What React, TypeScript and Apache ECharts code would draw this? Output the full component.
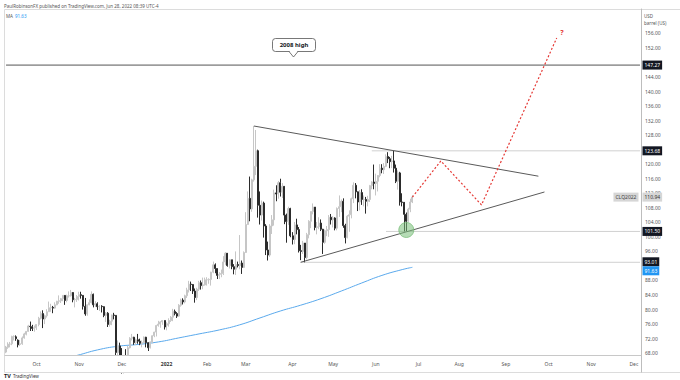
import React, { useEffect, useRef } from "react";
import * as echarts from "echarts";

// ---------- categories (trading days) ----------
const START_DATE = [2021, 8, 10];
const CATEGORY_COUNT = 313;
const HOLIDAYS = [
  "2021-11-25", "2021-12-24", "2022-01-17", "2022-02-21", "2022-04-15",
  "2022-05-30", "2022-06-20", "2022-07-04", "2022-09-05", "2022-11-24",
];
const MONTHS = ["Jan", "Feb", "Mar", "Apr", "May", "Jun", "Jul", "Aug", "Sep", "Oct", "Nov", "Dec"];

// ---------- candles: [open, close, low, high] ----------
const sep2021 = [
  [68.3, 69.7, 68.0, 70.0], [69.6, 70.5, 69.2, 71.0], [70.5, 70.5, 69.6, 71.1], [70.6, 72.6, 70.2, 72.8],
  [72.6, 72.6, 71.5, 72.9], [72.5, 72.0, 71.4, 72.9], [71.6, 70.3, 69.6, 71.8], [70.4, 70.6, 70.0, 71.6],
  [70.6, 72.2, 70.3, 72.6], [72.2, 73.3, 72.0, 73.6], [73.2, 74.0, 72.9, 74.1], [74.0, 75.5, 73.9, 75.8],
  [75.4, 75.3, 74.1, 76.7], [75.3, 74.8, 74.1, 75.8], [74.8, 75.0, 73.9, 75.6],
];
const oct2021 = [
  [75.0, 75.9, 74.4, 76.0], [75.9, 77.6, 75.4, 78.0], [77.6, 78.9, 77.3, 79.5], [78.9, 77.4, 74.9, 79.8],
  [77.4, 78.3, 76.0, 78.6], [78.3, 79.4, 77.8, 80.1], [79.4, 80.5, 79.4, 82.2], [80.5, 80.6, 79.4, 81.6],
  [80.6, 80.4, 79.0, 81.0], [80.4, 81.3, 80.2, 82.0], [81.3, 82.3, 81.2, 82.4], [82.3, 82.4, 81.6, 83.9],
  [82.4, 83.0, 81.8, 83.2], [83.0, 83.9, 82.3, 83.9], [83.9, 82.5, 81.3, 84.0], [82.5, 83.8, 82.0, 84.1],
  [83.8, 83.8, 83.3, 85.0], [83.8, 84.7, 83.6, 85.4], [84.7, 82.7, 82.0, 84.8], [82.7, 82.8, 80.6, 83.2],
  [82.8, 83.6, 82.1, 84.0],
];
const nov2021 = [
  [83.6, 84.1, 82.5, 84.9], [84.1, 83.9, 83.0, 84.9], [83.9, 80.9, 80.0, 84.0], [80.9, 78.8, 78.3, 83.2],
  [78.8, 81.3, 78.3, 81.4], [81.3, 81.9, 81.2, 82.8], [81.9, 84.2, 81.7, 85.0], [84.2, 81.3, 80.6, 84.4],
  [81.3, 81.6, 80.7, 82.3], [81.6, 80.8, 79.9, 82.0], [80.8, 80.9, 79.6, 81.2], [80.9, 80.8, 79.2, 81.2],
  [80.8, 78.4, 77.9, 80.9], [78.4, 79.0, 76.6, 79.3], [79.0, 75.9, 75.2, 79.3], [75.9, 76.8, 75.3, 77.2],
  [76.8, 78.5, 75.7, 78.6], [78.5, 78.4, 77.3, 79.1], [78.4, 68.2, 67.4, 78.5], [68.2, 70.0, 67.4, 71.5],
  [70.0, 66.2, 64.4, 70.9],
];
const dec2021 = [
  [66.2, 65.6, 62.4, 69.4], [65.6, 66.5, 62.4, 67.5], [66.5, 66.3, 64.6, 69.1], [66.3, 69.5, 66.0, 70.0],
  [69.5, 72.1, 69.3, 72.4], [72.1, 72.4, 71.5, 73.3], [72.4, 70.9, 70.3, 72.5], [70.9, 71.7, 70.3, 72.0],
  [71.7, 71.3, 70.6, 73.3], [71.3, 70.7, 70.2, 72.0], [70.7, 70.9, 69.6, 71.5], [70.9, 72.4, 70.8, 72.6],
  [72.4, 70.9, 69.6, 72.5], [70.9, 69.5, 68.6, 71.0], [69.5, 71.1, 69.3, 71.2], [71.1, 72.8, 70.7, 72.9],
  [72.8, 73.8, 72.4, 73.9], [73.8, 75.6, 72.6, 75.8], [75.6, 76.0, 75.3, 76.9], [76.0, 76.6, 75.0, 76.8],
  [76.6, 77.0, 75.8, 77.1], [77.0, 75.2, 74.5, 77.0],
];
const jan2022 = [
  [75.7, 76.1, 74.3, 76.5], [76.1, 77.0, 75.3, 77.6], [77.0, 77.9, 76.6, 78.2], [77.9, 79.5, 76.8, 80.2],
  [79.5, 78.9, 78.4, 80.0], [78.9, 78.2, 77.7, 79.3], [78.2, 81.2, 78.0, 81.5], [81.2, 82.6, 80.8, 83.0],
  [82.6, 82.1, 81.4, 83.1], [82.1, 83.8, 81.7, 84.1], [83.8, 85.4, 83.2, 86.0], [85.4, 87.0, 84.7, 87.9],
  [87.0, 86.9, 85.1, 87.7], [86.9, 85.1, 84.3, 86.8], [85.1, 83.3, 81.9, 85.8], [83.3, 85.6, 82.6, 86.0],
  [85.6, 87.4, 85.1, 87.9], [87.4, 86.6, 85.5, 88.0], [86.6, 86.8, 85.6, 88.8], [86.8, 88.2, 86.6, 88.8],
];
const feb2022 = [
  [88.2, 88.2, 86.6, 88.9], [88.2, 88.3, 87.1, 88.6], [88.3, 90.3, 86.6, 90.4], [90.3, 92.3, 90.0, 93.2],
  [92.3, 91.3, 90.0, 92.7], [91.3, 89.4, 88.4, 91.3], [89.4, 89.7, 88.4, 90.3], [89.7, 89.9, 88.9, 91.0],
  [89.9, 93.1, 89.5, 94.7], [93.1, 95.5, 92.3, 95.8], [95.5, 92.1, 91.8, 95.0], [92.1, 93.7, 91.3, 93.8],
  [93.7, 91.8, 91.1, 93.7], [91.8, 91.1, 89.7, 92.5], [91.1, 92.4, 89.5, 96.0], [92.4, 92.1, 91.6, 93.2],
  [92.1, 92.8, 91.1, 100.5], [92.8, 91.6, 89.8, 93.5], [91.6, 95.7, 91.5, 96.0],
];
const mar2022 = [
  [95.7, 103.4, 95.6, 106.8], [103.4, 110.6, 103.3, 112.5], [110.6, 107.7, 104.3, 116.6], [107.7, 115.7, 106.9, 116.0],
  [115.7, 119.4, 115.2, 130.5], [119.4, 123.7, 117.0, 129.4], [123.7, 108.7, 105.3, 124.0], [108.7, 106.0, 103.4, 112.5],
  [106.0, 109.3, 104.5, 110.0], [109.3, 103.0, 99.8, 109.7], [103.0, 96.4, 95.0, 103.5], [96.4, 95.0, 93.5, 98.7],
  [95.0, 103.0, 94.5, 103.5], [103.0, 104.7, 100.8, 106.0], [104.7, 112.1, 103.1, 113.0], [112.1, 111.8, 109.8, 114.2],
  [111.8, 114.9, 110.5, 115.4], [114.9, 112.3, 111.1, 116.0], [112.3, 113.9, 110.7, 114.8], [113.9, 106.0, 103.5, 114.0],
  [106.0, 104.2, 98.4, 106.4], [104.2, 107.8, 103.3, 108.3], [107.8, 100.3, 99.9, 108.0],
];
const apr2022 = [
  [100.3, 99.3, 97.9, 101.3], [99.3, 103.3, 98.0, 104.1], [103.3, 102.0, 100.7, 105.0], [102.0, 96.2, 95.7, 102.7],
  [96.2, 96.0, 93.6, 97.8], [96.0, 98.3, 95.3, 98.9], [98.3, 94.3, 93.0, 97.3], [94.3, 100.6, 93.8, 101.1],
  [100.6, 104.3, 99.6, 104.6], [104.3, 107.0, 102.4, 107.0], [107.0, 108.2, 106.2, 109.2], [108.2, 102.6, 101.8, 108.1],
  [102.6, 102.8, 100.7, 104.1], [102.8, 103.8, 102.1, 105.4], [103.8, 102.1, 101.6, 104.8], [102.1, 98.5, 95.3, 102.2],
  [98.5, 101.7, 98.1, 102.0], [101.7, 102.0, 100.2, 103.0], [102.0, 105.4, 100.0, 106.0], [105.4, 104.7, 103.4, 106.3],
];
const may2022 = [
  [104.7, 105.2, 102.6, 105.7], [105.2, 102.4, 101.8, 105.4], [102.4, 107.8, 101.8, 108.1], [107.8, 108.3, 105.5, 111.4],
  [108.3, 109.8, 106.8, 110.3], [109.8, 103.1, 102.5, 110.6], [103.1, 99.8, 98.2, 103.6], [99.8, 105.7, 99.6, 106.0],
  [105.7, 106.1, 101.4, 107.3], [106.1, 110.5, 105.1, 110.8], [110.5, 114.2, 109.3, 115.0], [114.2, 112.4, 110.6, 114.8],
  [112.4, 109.6, 107.1, 112.5], [109.6, 112.2, 107.3, 112.9], [112.2, 110.3, 108.8, 113.1], [110.3, 110.3, 108.4, 111.4],
  [110.3, 109.8, 106.4, 111.0], [109.8, 110.3, 108.4, 111.3], [110.3, 114.1, 109.6, 114.3], [114.1, 115.1, 113.1, 115.3],
  [115.1, 114.7, 113.1, 119.9],
];
const jun2022 = [
  [114.7, 115.3, 111.4, 117.4], [115.3, 116.9, 112.5, 117.0], [116.9, 118.9, 116.4, 120.0], [118.9, 118.5, 117.5, 120.0],
  [118.5, 119.4, 117.3, 120.3], [119.4, 122.1, 119.2, 122.7], [122.1, 121.5, 120.3, 123.3], [121.5, 120.7, 118.9, 122.0],
  [120.7, 120.9, 118.9, 122.3], [120.9, 118.9, 117.7, 123.68], [118.9, 115.3, 114.8, 119.9], [115.3, 117.6, 113.0, 118.3],
  [117.6, 109.6, 108.6, 117.9], [109.6, 109.5, 108.4, 112.0], [109.5, 106.2, 101.5, 108.0], [106.2, 104.3, 101.6, 106.7],
  [104.3, 107.6, 104.0, 108.0], [107.6, 109.6, 106.8, 110.5], [109.6, 110.94, 109.3, 111.5],
];

// ---------- moving average samples: [barIndex, value] ----------
const maPoints = [
  [30, 66.8], [35, 67.4], [45, 68.9], [55, 69.9], [65, 70.4], [75, 71.1], [85, 72.2], [95, 73.3],
  [105, 74.4], [115, 75.8], [125, 77.7], [135, 79.6], [145, 81.2], [155, 83.0], [165, 85.1],
  [175, 87.3], [185, 89.4], [195, 91.0], [200, 91.63],
];

// ---------- drawings: [barIndex, price] ----------
const upperTrend = [[122, 130.5], [262, 116.7]];
const lowerTrend = [[145, 93.01], [265, 112.35]];
const projection = [[200, 110.94], [214, 120.9], [234, 108.8], [271, 154.7]];
const HIGH_2008 = 147.27;
const JUNE_HIGH = 123.68;
const JUNE_LOW = 101.5;
const APRIL_LOW = 93.01;
const LAST_PRICE = 110.94;
const MA_LAST = 91.63;
const levelStarts = { high2008: 0, juneHigh: 180, juneLow: 187, aprilLow: 145 };
const circlePoint = [197, 101.9];
const priceTicks = [68, 72, 76, 80, 84, 88, 96, 100, 104, 108, 112, 116, 120, 128, 132, 136, 140, 144, 152, 156];

const FONT = "Noto Sans";

function buildTradingDays(): string[] {
  const out: string[] = [];
  const d = new Date(Date.UTC(START_DATE[0], START_DATE[1], START_DATE[2]));
  while (out.length < CATEGORY_COUNT) {
    const wd = d.getUTCDay();
    const s = d.toISOString().slice(0, 10);
    if (wd !== 0 && wd !== 6 && HOLIDAYS.indexOf(s) < 0) out.push(s);
    d.setUTCDate(d.getUTCDate() + 1);
  }
  return out;
}

export default function App() {
  const ref = useRef<HTMLDivElement>(null);

  useEffect(() => {
    if (!ref.current) return;
    const chart = echarts.init(ref.current, undefined, { renderer: "svg" });
    const dates = buildTradingDays();
    const lastIdx = dates.length - 1;
    const monthStart = new Set<number>();
    for (let i = 1; i < dates.length; i++) {
      if (dates[i].slice(5, 7) !== dates[i - 1].slice(5, 7)) monthStart.add(i);
    }
    const candles = [
      ...sep2021, ...oct2021, ...nov2021, ...dec2021, ...jan2022,
      ...feb2022, ...mar2022, ...apr2022, ...may2022, ...jun2022,
    ];

    const hLine = (start: number, v: number, color: string) => ({
      type: "line",
      data: [[start, v], [lastIdx, v]],
      symbol: "none",
      silent: true,
      lineStyle: { color, width: 1 },
      z: 1,
    });

    const tag = (v: number, text: string, bg: string, fg: string, dy = 0) => ({
      coord: [lastIdx, v],
      label: {
        show: true,
        position: "right",
        distance: 2,
        offset: [0, dy],
        formatter: text,
        backgroundColor: bg,
        color: fg,
        fontSize: 5,
        fontFamily: FONT,
        padding: [2, 2, 1, 2],
        lineHeight: 6,
      },
    });

    chart.setOption({
      animation: false,
      backgroundColor: "#ffffff",
      grid: { left: 5, right: 39, top: 9, bottom: 25, containLabel: false },
      xAxis: {
        type: "category",
        data: dates,
        boundaryGap: true,
        z: 200,
        axisLine: { show: true, lineStyle: { color: "#c8c8c8", width: 1 } },
        axisTick: { show: false },
        splitLine: { show: false },
        axisLabel: {
          interval: (index: number) => monthStart.has(index),
          formatter: (value: string) => {
            const m = +value.slice(5, 7);
            return m === 1 ? "{y|" + value.slice(0, 4) + "}" : MONTHS[m - 1];
          },
          color: "#555",
          fontSize: 5,
          fontFamily: FONT,
          margin: 6,
          rich: { y: { fontWeight: "bold", fontSize: 5, color: "#333", fontFamily: FONT } },
        },
      },
      yAxis: {
        type: "value",
        position: "right",
        min: 67.5,
        max: 162.7,
        scale: true,
        axisLine: { show: true, lineStyle: { color: "#bdbdbd", width: 1 } },
        axisTick: { show: false },
        splitLine: { show: false },
        axisLabel: {
          customValues: priceTicks,
          formatter: (v: number) => v.toFixed(2),
          color: "#555",
          fontSize: 5,
          fontFamily: FONT,
          margin: 4,
        },
      },
      series: [
        hLine(levelStarts.high2008, HIGH_2008, "#555555"),
        hLine(levelStarts.juneHigh, JUNE_HIGH, "#d0d0d0"),
        hLine(levelStarts.juneLow, JUNE_LOW, "#d0d0d0"),
        hLine(levelStarts.aprilLow, APRIL_LOW, "#d0d0d0"),
        {
          type: "line",
          data: maPoints,
          symbol: "none",
          smooth: true,
          silent: true,
          lineStyle: { color: "#5aa9ec", width: 1 },
          z: 1,
        },
        {
          type: "line",
          data: upperTrend,
          symbol: "none",
          silent: true,
          lineStyle: { color: "#5a5a5a", width: 1 },
          z: 3,
        },
        {
          type: "line",
          data: lowerTrend,
          symbol: "none",
          silent: true,
          lineStyle: { color: "#5a5a5a", width: 1 },
          z: 3,
        },
        {
          type: "candlestick",
          data: candles,
          barWidth: 1.5,
          clip: true,
          itemStyle: {
            color: "#c6c6c6",
            color0: "#2b2b2b",
            borderColor: "#c6c6c6",
            borderColor0: "#2b2b2b",
            borderWidth: 1,
          },
          z: 2,
        },
        {
          type: "line",
          data: projection.map((p, i) =>
            i === projection.length - 1
              ? { value: p, symbol: "arrow", symbolSize: 5, symbolRotate: -24, itemStyle: { color: "#e53935" } }
              : { value: p, symbol: "none" }
          ),
          symbol: "none",
          showSymbol: true,
          silent: true,
          lineStyle: { color: "#e53935", width: 1.2, type: [2, 2] },
          z: 4,
          markPoint: {
            symbol: "rect",
            symbolSize: 1,
            itemStyle: { color: "rgba(0,0,0,0)" },
            data: [
              {
                coord: projection[projection.length - 1],
                label: {
                  show: true,
                  position: "right",
                  distance: 3,
                  offset: [0, -6],
                  formatter: "?",
                  color: "#e53935",
                  fontWeight: "bold",
                  fontSize: 7,
                  fontFamily: FONT,
                },
              },
            ],
          },
        },
        {
          type: "line",
          data: [],
          clip: false,
          silent: true,
          z: 6,
          markPoint: {
            symbol: "rect",
            symbolSize: 1,
            itemStyle: { color: "rgba(0,0,0,0)" },
            data: [
              tag(HIGH_2008, HIGH_2008.toFixed(2), "#131722", "#ffffff"),
              tag(JUNE_HIGH, JUNE_HIGH.toFixed(2), "#131722", "#ffffff"),
              tag(LAST_PRICE, LAST_PRICE.toFixed(2), "#d6d6d6", "#333333"),
              tag(JUNE_LOW, JUNE_LOW.toFixed(2), "#131722", "#ffffff"),
              tag(APRIL_LOW, APRIL_LOW.toFixed(2), "#131722", "#ffffff", -0.5),
              tag(MA_LAST, MA_LAST.toFixed(2), "#2196f3", "#ffffff", 3.5),
              {
                coord: [lastIdx, LAST_PRICE],
                label: {
                  show: true,
                  position: "left",
                  distance: 1,
                  formatter: "CLQ2022",
                  backgroundColor: "#d6d6d6",
                  color: "#444",
                  fontSize: 5,
                  fontFamily: FONT,
                  padding: [2, 2, 1, 2],
                  lineHeight: 6,
                },
              },
            ],
          },
        },
        {
          type: "line",
          data: [],
          silent: true,
          z: 5,
          markPoint: {
            symbol: "circle",
            symbolSize: 15,
            itemStyle: { color: "rgba(120,190,120,0.55)", borderColor: "#7cbf7c", borderWidth: 0.8 },
            label: { show: false },
            data: [{ coord: circlePoint }],
          },
        },
      ],
      graphic: [
        {
          type: "rect", shape: { x: 5, y: 355.6, width: 636, height: 16.6 },
          style: { fill: "#ffffff" }, silent: true, z: 100,
        },
        { type: "line", shape: { x1: 4.5, y1: 9.5, x2: 680, y2: 9.5 }, style: { stroke: "#dcdcdc", lineWidth: 1 }, silent: true },
        { type: "line", shape: { x1: 4.5, y1: 9.5, x2: 4.5, y2: 372.5 }, style: { stroke: "#dcdcdc", lineWidth: 1 }, silent: true, z: 101 },
        { type: "line", shape: { x1: 4.5, y1: 372.5, x2: 680, y2: 372.5 }, style: { stroke: "#dcdcdc", lineWidth: 1 }, silent: true, z: 101 },
        { type: "line", shape: { x1: 641.5, y1: 355, x2: 641.5, y2: 372.5 }, style: { stroke: "#bdbdbd", lineWidth: 1 }, silent: true, z: 101 },
        {
          type: "text", x: 4, y: 3,
          style: { text: "PaulRobinsonFX published on TradingView.com, Jun 28, 2022 08:39 UTC-4", fontSize: 4.5, fontFamily: FONT, fill: "#555" },
          silent: true,
        },
        { type: "text", x: 6, y: 13, style: { text: "MA", fontSize: 4.5, fontFamily: FONT, fill: "#555" }, silent: true },
        { type: "text", x: 15, y: 13, style: { text: MA_LAST.toFixed(2), fontSize: 4.5, fontFamily: FONT, fill: "#2196f3" }, silent: true },
        { type: "text", x: 644, y: 13, style: { text: "USD", fontSize: 4.5, fontFamily: FONT, fill: "#555" }, silent: true },
        { type: "text", x: 644, y: 20, style: { text: "barrel (US)", fontSize: 4.5, fontFamily: FONT, fill: "#555" }, silent: true },
        { type: "text", x: 4, y: 373, style: { text: "TV", fontSize: 5.5, fontWeight: "bold", fontFamily: FONT, fill: "#131722" }, silent: true },
        { type: "text", x: 13, y: 373.5, style: { text: "TradingView", fontSize: 4.5, fontFamily: FONT, fill: "#333" }, silent: true },
        {
          type: "rect", shape: { x: 272.5, y: 38.5, width: 43, height: 13, r: 3 },
          style: { fill: "#ffffff", stroke: "#555", lineWidth: 0.8 }, silent: true, z: 10,
        },
        {
          type: "polygon", shape: { points: [[289, 50.6], [293.5, 57], [298, 50.6]] },
          style: { fill: "#ffffff", stroke: null }, silent: true, z: 11,
        },
        {
          type: "polyline", shape: { points: [[289, 51.5], [293.5, 57], [298, 51.5]] },
          style: { stroke: "#555", lineWidth: 0.8, fill: null }, silent: true, z: 11,
        },
        {
          type: "text", x: 294, y: 45,
          style: { text: "2008 high", fontSize: 6, fontWeight: "bold", fontFamily: FONT, fill: "#131722", align: "center", verticalAlign: "middle" },
          silent: true, z: 12,
        },
      ],
    });

    return () => chart.dispose();
  }, []);

  return <div ref={ref} style={{ width: 680, height: 380, position: "absolute", left: 0, top: 0 }} />;
}
